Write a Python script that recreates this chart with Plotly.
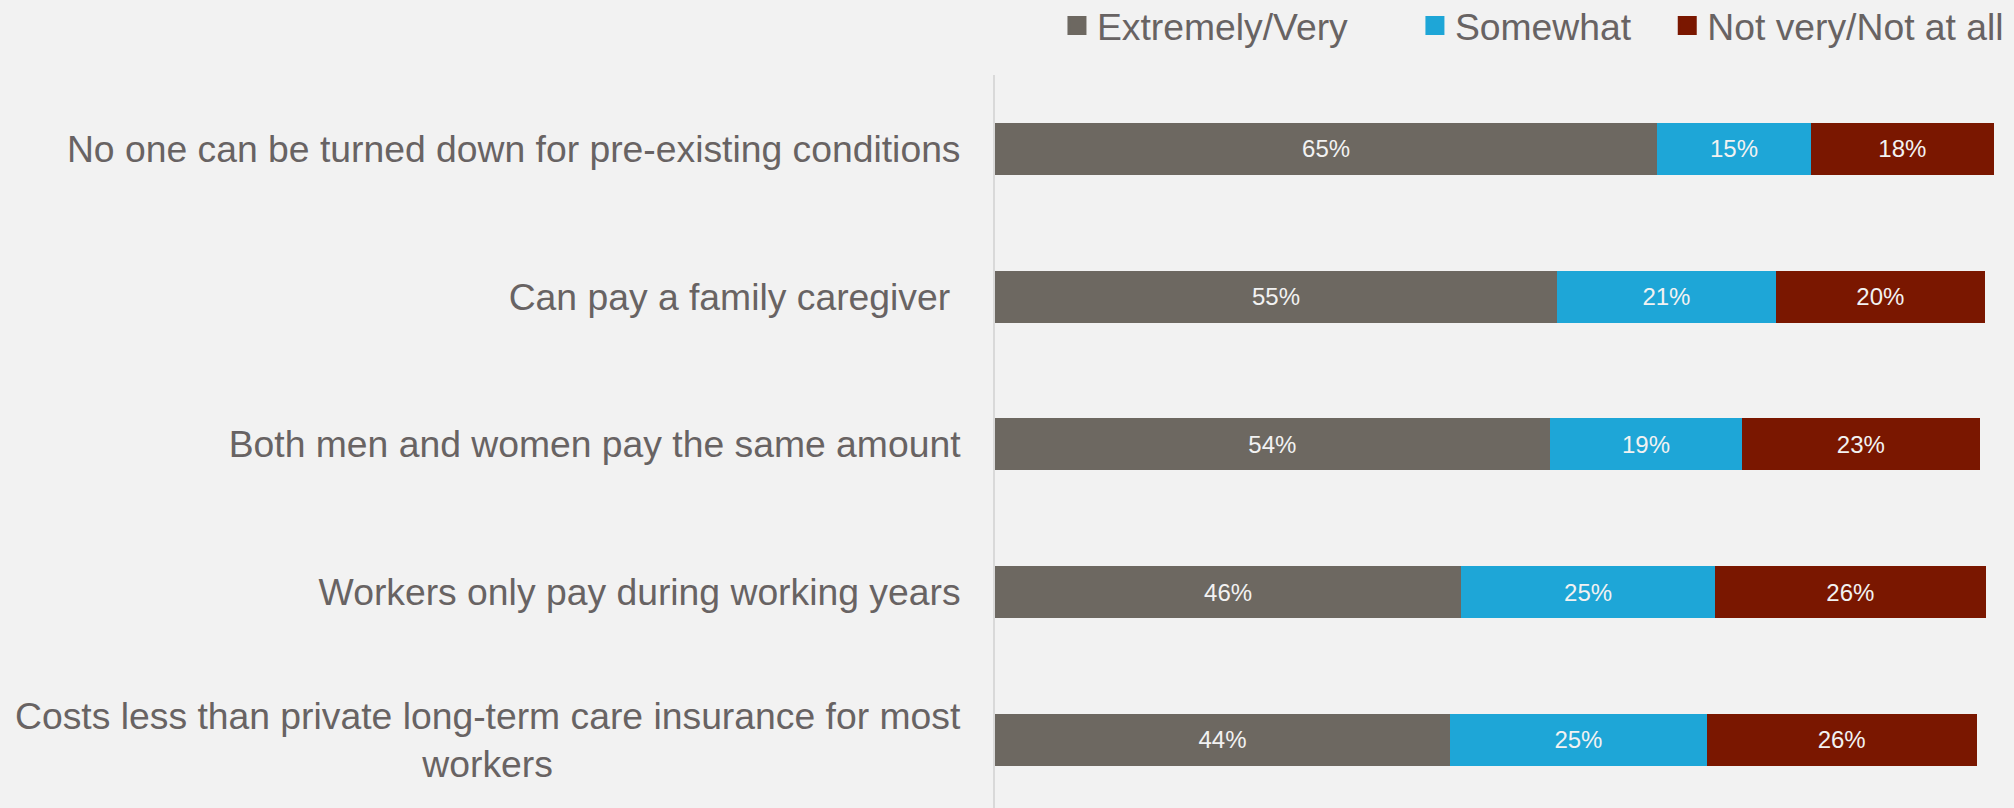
import plotly.graph_objects as go

categories = [
    "No one can be turned down for pre-existing conditions",
    "Can pay a family caregiver\u00a0",
    "Both men and women pay the same amount",
    "Workers only pay during working years",
    "Costs less than private long-term care insurance for most<br>workers",
]
# values (labels show rounded values)
extremely_very = [64.7, 54.9, 54.2, 45.55, 44.45]
somewhat = [15.0, 21.4, 18.8, 24.8, 25.1]
not_very = [17.9, 20.4, 23.2, 26.45, 26.35]

series_names = ["Extremely/Very", "Somewhat", "Not very/Not at all"]
series_values = [extremely_very, somewhat, not_very]
series_colors = ["#6d6861", "#1ea6d7", "#7a1700"]
legend_pads = [6, 3, 0]

FONT = "Liberation Sans, Arial, sans-serif"
TXT = "#686363"

fig = go.Figure()
for name, vals, color in zip(series_names, series_values, series_colors):
    fig.add_trace(go.Bar(
        y=categories, x=vals, name=name, orientation="h",
        marker=dict(color=color, line=dict(width=0)),
        texttemplate="%{x:.0f}%", textposition="inside", insidetextanchor="middle",
        textangle=0, constraintext="none",
        textfont=dict(size=24, color="#f2f2f2", family=FONT),
        hoverinfo="skip", showlegend=False,
    ))

# legend entries (square swatches)
for name, color, pad in zip(series_names, series_colors, legend_pads):
    fig.add_trace(go.Scatter(
        x=[None], y=[None], mode="markers",
        name=name + "\u00a0" * pad,
        marker=dict(symbol="square", size=16, color=color,
                    line=dict(color=color, width=3)),
        showlegend=True, hoverinfo="skip",
    ))

ticktext = [c if "<br>" not in c else "" for c in categories]

fig.update_layout(
    barmode="stack",
    bargap=0.648,
    width=2014, height=808,
    paper_bgcolor="#f2f2f2", plot_bgcolor="#f2f2f2",
    margin=dict(l=995, r=0, t=75, b=0),
    font=dict(family=FONT, color=TXT),
    showlegend=True,
    legend=dict(
        orientation="h", xref="container", x=0.9975, xanchor="right",
        yref="container", y=0.968, yanchor="middle",
        font=dict(size=37.3, color=TXT, family=FONT),
        bgcolor="rgba(0,0,0,0)", traceorder="normal", itemsizing="trace",
    ),
)
for c in categories:
    if "<br>" in c:
        fig.add_annotation(
            xref="paper", x=0, xanchor="right", xshift=-32,
            yref="y", y=c, yanchor="middle",
            text=c, align="center", showarrow=False,
            font=dict(size=37.3, color=TXT, family=FONT),
        )

fig.update_xaxes(range=[0, 99.56], visible=False, showgrid=False, zeroline=False)
fig.update_yaxes(
    autorange=False, range=[4.461, -0.5],
    tickmode="array", tickvals=categories, ticktext=ticktext,
    showgrid=False, zeroline=False,
    showline=True, linecolor="#d9d9d9", linewidth=2,
    ticks="", ticklabelstandoff=25,
    tickfont=dict(size=37.3, color=TXT, family=FONT),
)

fig.write_html("out.html", config={"displayModeBar": False},
               post_script="document.body.style.margin='0';")
